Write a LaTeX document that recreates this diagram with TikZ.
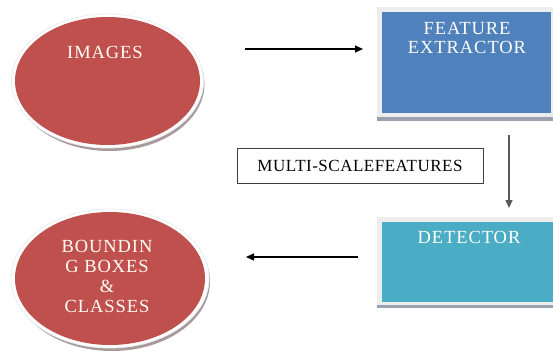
\documentclass[tikz,border=0pt]{standalone}
\usepackage{fontspec}
\setmainfont{Liberation Serif}
\usetikzlibrary{arrows.meta,shapes.geometric}
\definecolor{ered}{HTML}{C0504D}
\definecolor{eblue}{HTML}{4F81BD}
\definecolor{eaqua}{HTML}{4BACC6}
\definecolor{shadowc}{HTML}{98A2B0}
\definecolor{oshadowc}{HTML}{A89A9C}
\definecolor{rimc}{HTML}{EDEDED}
\newfontfamily\spacedfont[LetterSpace=5]{Liberation Serif}
\newfontfamily\labelfont[LetterSpace=3]{Liberation Serif}
\tikzset{
  shapetext/.style={text=white!96!yellow, font=\spacedfont\fontsize{18.5}{19.7}\selectfont, align=center, inner sep=0pt},
  flow/.style={line width=1.1pt, -{Triangle[length=8pt,width=7pt]}},
  ovalshadow/.style={ellipse, fill=oshadowc, inner sep=0pt},
  ovalrim/.style={ellipse, fill=white, draw=rimc, line width=0.8pt, inner sep=0pt},
  ovalfill/.style={ellipse, fill=ered, inner sep=0pt},
  boxrim/.style={fill=rimc},
  boxshadow/.style={fill=shadowc},
}
\begin{document}
\begin{tikzpicture}[x=1pt,y=-1pt]
\useasboundingbox (0,0) rectangle (553,353);
% top ellipse
\node[ovalshadow, minimum width=190pt, minimum height=134pt] (imgshadow) at (109.5,84) {};
\node[ovalrim, minimum width=192pt, minimum height=134pt] (imgrim) at (107.5,81) {};
\node[ovalfill, minimum width=185pt, minimum height=128pt] (img) at (107.5,81) {};
\node[shapetext] (imgtext) at (105,52) {IMAGES};
% bottom ellipse
\node[ovalshadow, minimum width=196pt, minimum height=139pt] (bbshadow) at (112,281.5) {};
\node[ovalrim, minimum width=198pt, minimum height=139pt] (bbrim) at (110,278.5) {};
\node[ovalfill, minimum width=190pt, minimum height=133pt] (bb) at (110,278.5) {};
\node[shapetext] (bbtext) at (107,276.5) {BOUNDIN\\G BOXES\\\&\\CLASSES};
% feature extractor
\fill[boxshadow] (377,117) rectangle (553,121);
\fill[boxrim] (377,7) rectangle (553,117);
\node[fill=eblue, minimum width=169pt, minimum height=101pt, inner sep=0pt, anchor=north west] (fe) at (382,12) {};
\node[shapetext] (fetext) at (467,38) {FEATURE\\EXTRACTOR};
% detector
\fill[boxshadow] (377,305) rectangle (553,308);
\fill[boxrim] (377,217) rectangle (553,305);
\node[fill=eaqua, minimum width=171pt, minimum height=80pt, inner sep=0pt, anchor=north west] (det) at (382,222) {};
\node[shapetext] (dettext) at (469,237) {DETECTOR};
% label box
\node[draw=black!75, line width=1pt, minimum width=246pt, minimum height=35pt, inner sep=0pt, font=\labelfont\fontsize{17}{18}\selectfont] (msf) at (360,165.5) {MULTI-SCALEFEATURES};
% arrows
\coordinate (a1s) at (245,49);
\coordinate (a1e) at (363,49);
\coordinate (a2s) at (509,135);
\coordinate (a2e) at (509,208);
\coordinate (a3s) at (358,257);
\coordinate (a3e) at (246,257);
\draw[flow] (a1s) -- (a1e);
\draw[flow, draw=black!65, line width=1.4pt] (a2s) -- (a2e);
\draw[flow] (a3s) -- (a3e);
\end{tikzpicture}
\end{document}
